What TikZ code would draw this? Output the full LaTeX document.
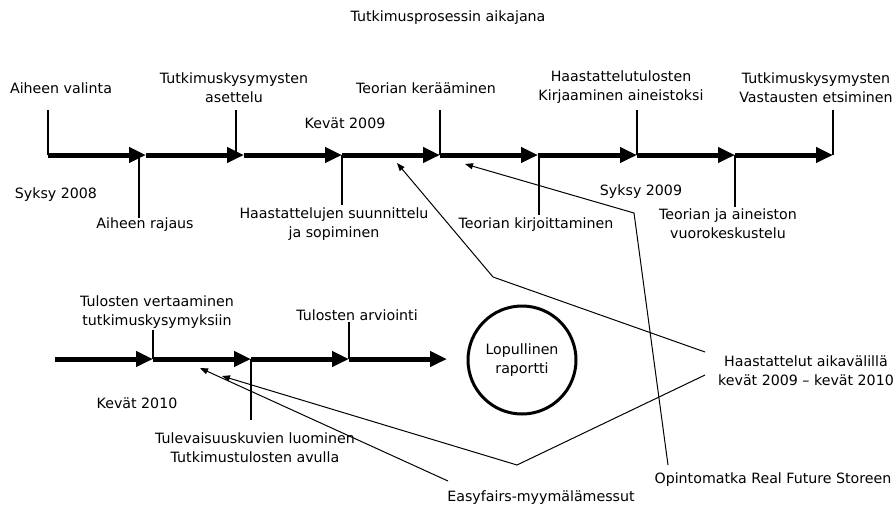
\documentclass[tikz,border=0pt]{standalone}
\usepackage{fontspec}
\setmainfont{DejaVu Sans}
\usetikzlibrary{arrows.meta}
\begin{document}
\begin{tikzpicture}[x=1pt,y=-1pt,
  every node/.style={inner sep=0pt, font=\fontsize{14.2}{19}\selectfont, align=center},
  phase/.style={line width=5pt, -{Triangle[length=17pt,width=15pt]}},
  tick/.style={line width=1.2pt},
  pointer/.style={line width=1pt, -{Triangle[length=8pt,width=6pt]}},
  goal/.style={circle, draw, line width=3pt, minimum size=108pt}]
\useasboundingbox (0,0) rectangle (896,504);

% title
\node (title) at (448,18) {Tutkimusprosessin aikajana};

% upper timeline points
\foreach \n/\x in {0/48,1/146,2/244,3/342,4/440,5/538,6/637,7/735,8/833}
  \coordinate (t\n) at (\x,155);
\foreach \a/\b in {0/1,1/2,2/3,3/4,4/5,5/6,6/7,7/8}
  \draw[phase] (t\a) -- (t\b);

% lower timeline points
\foreach \n/\x in {0/55,1/153,2/251,3/349,4/447}
  \coordinate (b\n) at (\x,359);
\foreach \a/\b in {0/1,1/2,2/3,3/4}
  \draw[phase] (b\a) -- (b\b);

% upper labels
\node (valinta) at (61,88) {Aiheen valinta};
\node (asettelu) at (234,87.5) {Tutkimuskysymysten\\asettelu};
\node (kevat09) at (345,123) {Kevät 2009};
\node (keraaminen) at (426,88) {Teorian kerääminen};
\node (kirjaaminen) at (621,87.5) {Haastattelutulosten\\Kirjaaminen aineistoksi};
\node (vastausten) at (816,87.5) {Tutkimuskysymysten\\Vastausten etsiminen};
\node (syksy08) at (56,195) {Syksy 2008};
\node (rajaus) at (145,225) {Aiheen rajaus};
\node (suunnittelu) at (334,224) {Haastattelujen suunnittelu\\ja sopiminen};
\node (kirjoittaminen) at (536,225) {Teorian kirjoittaminen};
\node (syksy09) at (641,192) {Syksy 2009};
\node (vuoro) at (728,224) {Teorian ja aineiston\\vuorokeskustelu};

% upper ticks
\coordinate (u0) at (48,110);
\coordinate (u1) at (139,218);
\coordinate (u2) at (236,110);
\coordinate (u3) at (342,205);
\coordinate (u4) at (440,110);
\coordinate (u5) at (539,215);
\coordinate (u6) at (637,110);
\coordinate (u7) at (735,207);
\coordinate (u8) at (833,110);
\draw[tick] (u0) -- (t0);
\draw[tick] (u1) -- (u1 |- t0);
\draw[tick] (u2) -- (u2 |- t0);
\draw[tick] (t3) -- (u3);
\draw[tick] (u4) -- (t4);
\draw[tick] (u5) -- (u5 |- t0);
\draw[tick] (u6) -- (t6);
\draw[tick] (t7) -- (u7);
\draw[tick] (u8) -- (t8);

% lower labels
\node (vertaaminen) at (157,312) {Tulosten vertaaminen\\tutkimuskysymyksiin};
\node (arviointi) at (357,315) {Tulosten arviointi};
\node (kevat10) at (137,403) {Kevät 2010};
\node (tulevaisuus) at (255,448) {Tulevaisuuskuvien luominen\\Tutkimustulosten avulla};
\node[goal] (raportti) at (522,360) {Lopullinen\\raportti};

% lower ticks
\coordinate (l1) at (153,330);
\coordinate (l2) at (251,420);
\coordinate (l3) at (349,322);
\draw[tick] (l1) -- (b1);
\draw[tick] (b2) -- (l2);
\draw[tick] (l3) -- (b3);

% side events
\node (haastattelut) at (806,371) {Haastattelut aikavälillä\\kevät 2009 – kevät 2010};
\node (opintomatka) at (773,480) {Opintomatka Real Future Storeen};
\node (easyfairs) at (541,498) {Easyfairs-myymälämessut};

\coordinate (h1s) at (705,352);
\coordinate (h1m) at (493,277);
\coordinate (h1e) at (397,163);
\coordinate (h2s) at (705,375);
\coordinate (h2m) at (517,465);
\coordinate (h2e) at (222,376);
\coordinate (os) at (668,465);
\coordinate (om) at (634,213);
\coordinate (oe) at (465,164);
\coordinate (es) at (448,481);
\coordinate (ee) at (200,368);

\draw[pointer] (h1s) -- (h1m) -- (h1e);
\draw[pointer] (h2s) -- (h2m) -- (h2e);
\draw[pointer] (os) -- (om) -- (oe);
\draw[pointer] (es) -- (ee);
\end{tikzpicture}
\end{document}
